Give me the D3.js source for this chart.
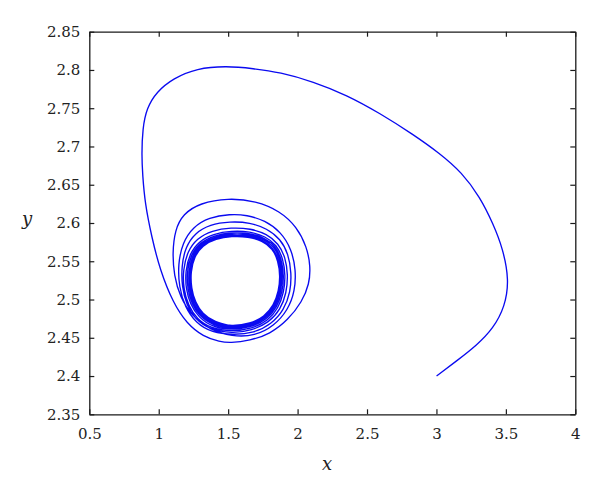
<!DOCTYPE html>
<html>
<head>
<meta charset="utf-8">
<script src="https://cdn.jsdelivr.net/npm/d3@7"></script>
<style>
  html, body { margin: 0; padding: 0; background: #fff; }
  svg { display: block; }
</style>
</head>
<body>
<svg id="chart" width="600" height="495"></svg>
<script>
// ---- data ----
const xTicks = [0.5, 1, 1.5, 2, 2.5, 3, 3.5, 4];
const xTickLabels = ["0.5", "1", "1.5", "2", "2.5", "3", "3.5", "4"];
const yTicks = [2.35, 2.4, 2.45, 2.5, 2.55, 2.6, 2.65, 2.7, 2.75, 2.8, 2.85];
const yTickLabels = ["2.35", "2.4", "2.45", "2.5", "2.55", "2.6", "2.65", "2.7", "2.75", "2.8", "2.85"];
const xTitle = "x";
const yTitle = "y";

// trajectory: big first excursion starting at (3, 2.4)
const bigLoop = [
  [3.001, 2.400], [3.145, 2.4197], [3.289, 2.4399], [3.409, 2.4621], [3.493, 2.4906],
  [3.524, 2.5255], [3.478, 2.5667], [3.409, 2.5987], [3.313, 2.6340], [3.183, 2.6660],
  [3.025, 2.6908], [2.833, 2.7157], [2.593, 2.7434], [2.353, 2.7673], [2.113, 2.7847],
  [1.873, 2.797], [1.679, 2.8019], [1.489, 2.8052], [1.273, 2.8022], [1.105, 2.7891],
  [0.985, 2.7716], [0.913, 2.7499], [0.884, 2.7238], [0.877, 2.6889], [0.884, 2.6627],
  [0.901, 2.6257], [0.949, 2.582], [1.009, 2.5386], [1.105, 2.4951], [1.201, 2.4689],
  [1.321, 2.4514], [1.441, 2.4449], [1.513, 2.4432]
];
// successive turns of the spiral
const ring1 = [
  [1.657, 2.4464], [1.801, 2.4549], [1.931, 2.4732], [2.031, 2.4968], [2.085, 2.5203],
  [2.093, 2.5438], [2.067, 2.5686], [1.995, 2.5948], [1.873, 2.6157], [1.700, 2.6288],
  [1.499, 2.6327], [1.297, 2.6261], [1.175, 2.6118], [1.117, 2.5909], [1.099, 2.5608],
  [1.110, 2.532], [1.153, 2.5033], [1.239, 2.4785], [1.369, 2.4602], [1.527, 2.4517]
];
const ring2 = [
  [1.693, 2.4523], [1.830, 2.4654], [1.931, 2.4863], [1.981, 2.5111], [1.988, 2.5386],
  [1.956, 2.5660], [1.880, 2.5883], [1.765, 2.6033], [1.635, 2.6105], [1.513, 2.6118],
  [1.362, 2.6072], [1.247, 2.5948], [1.171, 2.5739], [1.139, 2.5464], [1.146, 2.5164],
  [1.189, 2.4902], [1.268, 2.4693], [1.383, 2.4569], [1.535, 2.4537]
];
const ring3 = [
  [1.686, 2.4563], [1.812, 2.4680], [1.902, 2.4863], [1.949, 2.5098], [1.956, 2.5347],
  [1.934, 2.5595], [1.877, 2.5791], [1.779, 2.5928], [1.657, 2.6007], [1.513, 2.6020],
  [1.369, 2.5981], [1.261, 2.5869], [1.193, 2.5687], [1.164, 2.5438], [1.167, 2.5164],
  [1.200, 2.4929], [1.261, 2.4746], [1.365, 2.4608], [1.527, 2.4556]
];
const ring4 = [
  [1.671, 2.4595], [1.794, 2.4700], [1.877, 2.4870], [1.920, 2.5085], [1.931, 2.5321],
  [1.913, 2.5549], [1.862, 2.5732], [1.779, 2.5856], [1.661, 2.5928], [1.520, 2.5941],
  [1.383, 2.5902], [1.275, 2.5798], [1.207, 2.5628], [1.175, 2.5392], [1.178, 2.5138],
  [1.214, 2.4915], [1.275, 2.4746], [1.376, 2.4621]
];
// dense band of turns close to the limit cycle
const band5 = [
  [1.524, 2.4580], [1.672, 2.4617], [1.787, 2.4722], [1.861, 2.4885], [1.902, 2.5093],
  [1.913, 2.5317], [1.895, 2.5539], [1.849, 2.5713], [1.769, 2.5825], [1.656, 2.5889],
  [1.524, 2.5898], [1.393, 2.5858], [1.288, 2.5760], [1.223, 2.5598], [1.192, 2.5375],
  [1.195, 2.5138], [1.229, 2.4930], [1.287, 2.4767], [1.386, 2.4640]
];
const band4 = [
  [1.525, 2.4600], [1.668, 2.4637], [1.779, 2.4739], [1.851, 2.4897], [1.891, 2.5097],
  [1.902, 2.5314], [1.884, 2.5530], [1.841, 2.5700], [1.762, 2.5808], [1.652, 2.5868],
  [1.525, 2.5877], [1.399, 2.5839], [1.296, 2.5744], [1.232, 2.5586], [1.203, 2.5372],
  [1.206, 2.5142], [1.239, 2.4939], [1.295, 2.4781], [1.391, 2.4659]
];
const band3 = [
  [1.526, 2.4619], [1.665, 2.4654], [1.772, 2.4752], [1.842, 2.4906], [1.881, 2.5102],
  [1.892, 2.5313], [1.876, 2.5522], [1.833, 2.5688], [1.756, 2.5794], [1.649, 2.5851],
  [1.526, 2.5859], [1.403, 2.5822], [1.304, 2.5731], [1.241, 2.5577], [1.214, 2.5368],
  [1.216, 2.5144], [1.248, 2.4948], [1.302, 2.4794], [1.395, 2.4675]
];
const band2 = [
  [1.527, 2.4636], [1.661, 2.4670], [1.766, 2.4765], [1.834, 2.4915], [1.872, 2.5106],
  [1.883, 2.5310], [1.867, 2.5514], [1.825, 2.5676], [1.751, 2.5779], [1.647, 2.5834],
  [1.527, 2.5842], [1.406, 2.5807], [1.309, 2.5718], [1.250, 2.5569], [1.222, 2.5365],
  [1.226, 2.5147], [1.256, 2.4956], [1.309, 2.4807], [1.399, 2.4691]
];
const band1 = [
  [1.527, 2.4650], [1.659, 2.4683], [1.761, 2.4777], [1.828, 2.4923], [1.864, 2.5109],
  [1.875, 2.5309], [1.860, 2.5507], [1.820, 2.5667], [1.746, 2.5768], [1.644, 2.5821],
  [1.527, 2.5828], [1.410, 2.5794], [1.315, 2.5707], [1.256, 2.5561], [1.230, 2.5362],
  [1.234, 2.5149], [1.263, 2.4963], [1.314, 2.4816], [1.402, 2.4704], [1.527, 2.4652]
];

// ---- chart ----
const svg = d3.select("#chart");
const mLeft = 89.3, mRight = 575.3, mTop = 31.7, mBottom = 414.3;
const serif = "DejaVu Serif";

const x = d3.scaleLinear().domain([0.5, 4]).range([mLeft, mRight]);
const y = d3.scaleLinear().domain([2.35, 2.85]).range([mBottom, mTop]);

const trajectory = [].concat(bigLoop, ring1, ring2, ring3, ring4, band5, band4, band3, band2, band1);

svg.append("path")
  .datum(trajectory)
  .attr("fill", "none")
  .attr("stroke", "#0a0af0")
  .attr("stroke-width", 1.35)
  .attr("stroke-linejoin", "round")
  .attr("d", d3.line().x(d => x(d[0])).y(d => y(d[1])).curve(d3.curveBasis));

const axColor = "#1a1a1a";
function styleAxis(g) {
  g.attr("font-family", serif).attr("font-size", 15);
  g.select(".domain").attr("stroke", axColor).attr("stroke-width", 1.3);
  g.selectAll(".tick line").attr("stroke", axColor).attr("stroke-width", 1.2);
  g.selectAll(".tick text").attr("fill", "#222");
}

svg.append("g").attr("transform", `translate(0,${mBottom})`)
  .call(d3.axisBottom(x).tickValues(xTicks).tickFormat((d, i) => xTickLabels[i])
    .tickSizeInner(-5).tickSizeOuter(0).tickPadding(14))
  .call(styleAxis);

svg.append("g").attr("transform", `translate(${mLeft},0)`)
  .call(d3.axisLeft(y).tickValues(yTicks).tickFormat((d, i) => yTickLabels[i])
    .tickSizeInner(-5).tickSizeOuter(0).tickPadding(9))
  .call(styleAxis);

svg.append("g").attr("transform", `translate(0,${mTop})`)
  .call(d3.axisTop(x).tickValues(xTicks).tickFormat("").tickSizeInner(-5).tickSizeOuter(0))
  .call(styleAxis);

svg.append("g").attr("transform", `translate(${mRight},0)`)
  .call(d3.axisRight(y).tickValues(yTicks).tickFormat("").tickSizeInner(-5).tickSizeOuter(0))
  .call(styleAxis);

svg.append("text")
  .attr("x", 327).attr("y", 470)
  .attr("text-anchor", "middle")
  .attr("font-family", serif).attr("font-style", "italic").attr("font-size", 18)
  .attr("fill", "#222").text(xTitle);

svg.append("text")
  .attr("x", 27).attr("y", 225)
  .attr("text-anchor", "middle")
  .attr("font-family", serif).attr("font-style", "italic").attr("font-size", 18)
  .attr("fill", "#222").text(yTitle);
</script>
</body>
</html>
